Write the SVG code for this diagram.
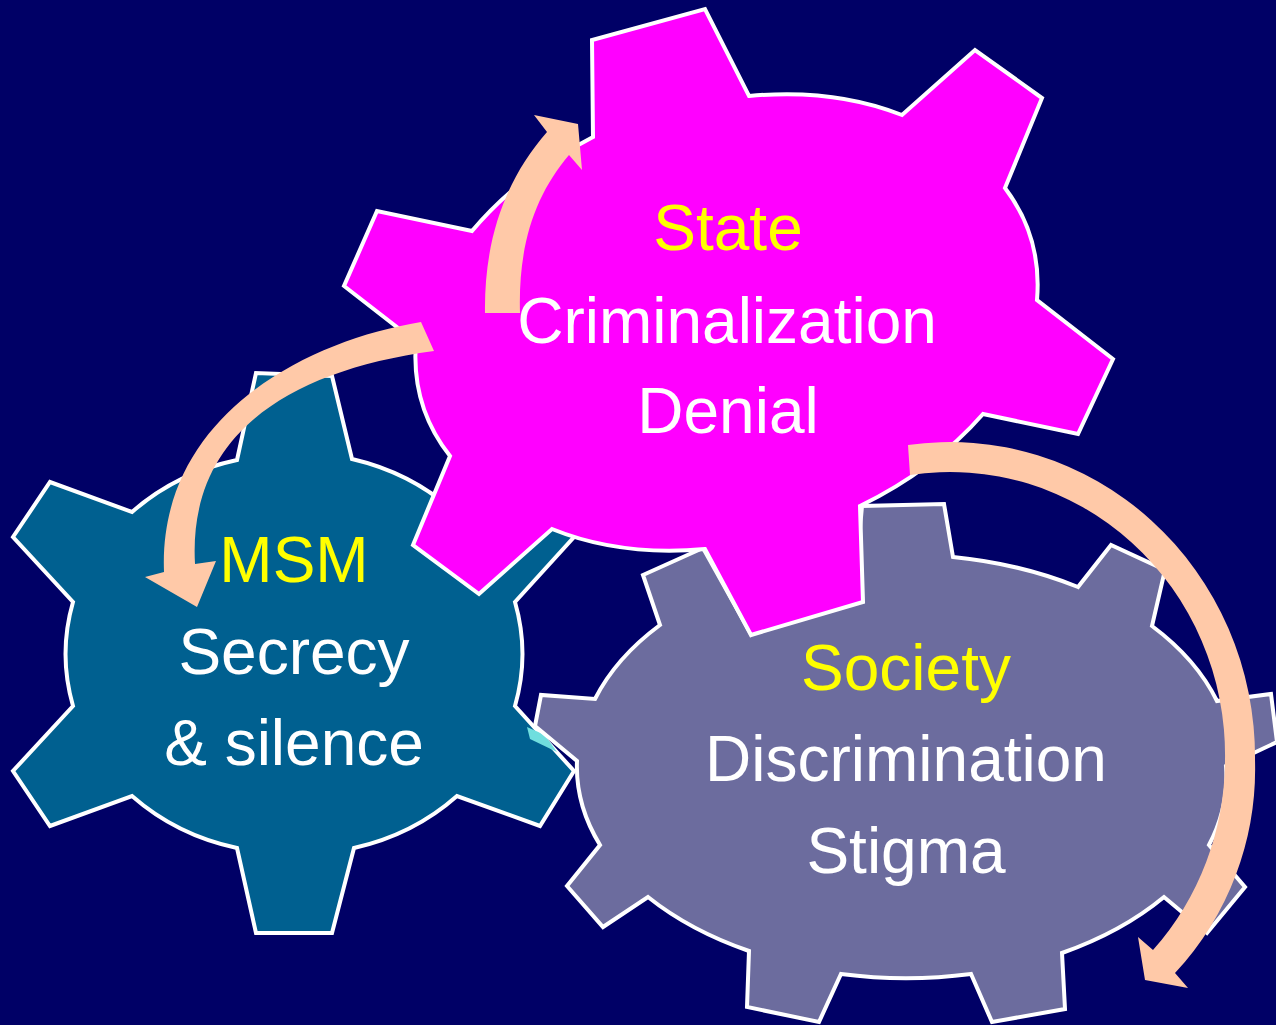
<svg xmlns="http://www.w3.org/2000/svg" width="1276" height="1025" viewBox="0 0 1276 1025">
<style>
.gear{stroke:#FFFFFF;stroke-width:4;stroke-linejoin:miter}
.t{font-family:"Liberation Sans",Arial,sans-serif;font-size:64px;text-anchor:middle}
.y{fill:#FFFF00}
.w{fill:#FFFFFF}
.arrow{fill:#FFC9A8;stroke:none}
</style>
<rect x="0" y="0" width="1276" height="1025" fill="#000066"/>
<g id="msm">
<path class="gear" fill="#006090" d="M237,460 L256,373 L332,376 L352,459 A225 205 0 0 1 455,512 L537,482 L574,537 L515,602 A225 205 0 0 1 515,706 L574,771 L540,826 L457,796 A225 205 0 0 1 354,848 L332,933 L256,933 L237,848 A225 205 0 0 1 132,796 L50,826 L13,771 L73,706 A225 205 0 0 1 73,602 L13,537 L50,482 L132,512 A225 205 0 0 1 237,460 Z"/>
<polygon points="527,727 530,739 557,752 545,735" fill="#70DEDE"/>
<text class="t y" x="294" y="582">MSM</text>
<text class="t w" x="294" y="674">Secrecy</text>
<text class="t w" x="294" y="765">&amp; silence</text>
</g>
<g id="society">
<path class="gear" fill="#6C6C9E" d="M857,562 L862,506 L944,504 L953,557 A330 213 0 0 1 1078,587 L1111,545 L1165,570 L1152,626 A330 213 0 0 1 1217,701 L1271,694 L1277,742 L1226,766 A330 213 0 0 1 1209,845 L1245,887 L1207,933 L1164,897 A330 213 0 0 1 1062,953 L1065,1009 L992,1022 L971,974 A330 213 0 0 1 841,974 L819,1022 L747,1007 L749,951 A330 213 0 0 1 648,897 L603,927 L567,886 L600,845 A330 213 0 0 1 577,761 L535,726 L541,695 L595,699 A330 213 0 0 1 660,625 L643,575 L703,548 L751,634 A330 213 0 0 1 857,562 Z"/>
<text class="t y" x="906" y="690">Society</text>
<text class="t w" x="906" y="781">Discrimination</text>
<text class="t w" x="906" y="873">Stigma</text>
</g>
<g id="state">
<path class="gear" fill="#FF00FF" d="M593,137 L592,40 L705,9 L749,96 A315 222 -20 0 1 902,115 L975,50 L1042,98 L1005,188 A315 222 -20 0 1 1037,300 L1113,359 L1078,434 L983,414 A315 222 -20 0 1 860,506 L863,602 L751,635 L705,549 A315 222 -20 0 1 552,529 L479,594 L413,545 L450,456 A315 222 -20 0 1 416,342 L344,286 L377,211 L472,231 A315 222 -20 0 1 593,137 Z"/>
<text class="t y" x="728" y="250">State</text>
<text class="t w" x="727" y="343">Criminalization</text>
<text class="t w" x="728" y="433">Denial</text>
</g>
<g id="connectors">
<path class="arrow" d="M485,313 C484,240 505,180 547,132 L534,115 L578,124 L582,170 L569,155 C535,195 518,245 520,313 Z"/>
<path class="arrow" d="M421,322 C300,342 158,420 164,572 L145,577 L197,607 L216,561 L195,564 C188,440 280,372 434,351 Z"/>
<path class="arrow" d="M908,445 A305 315 0 0 1 1255,760 A300 300 0 0 1 1175,973 L1188,988 L1145,980 L1138,937 L1153,950 A275 283 0 0 0 1225,760 A275 283 0 0 0 910,475 Z"/>
</g>
</svg>
